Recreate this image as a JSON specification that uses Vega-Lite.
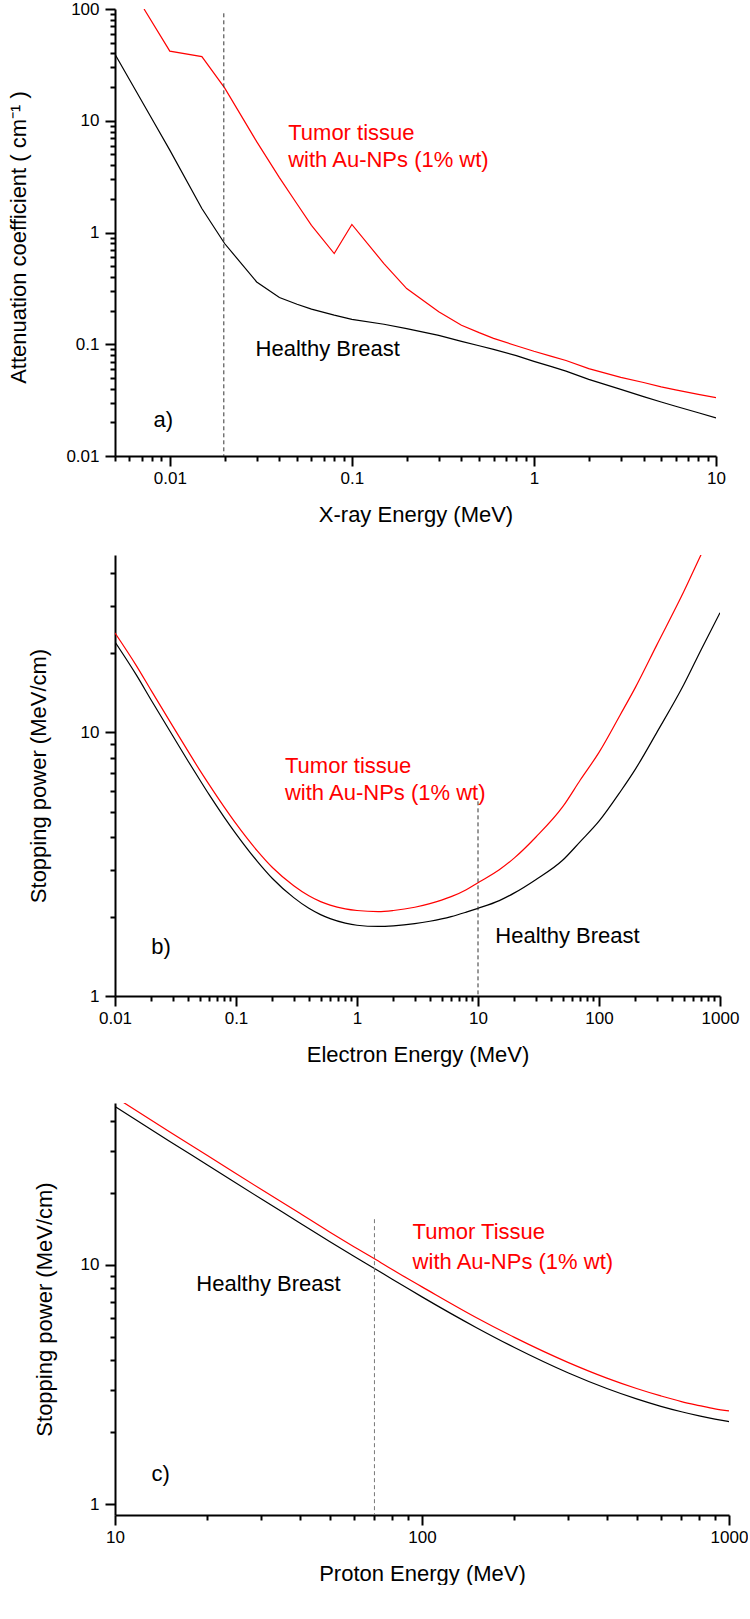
{
  "$schema": "https://vega.github.io/schema/vega-lite/v6.json",
  "padding": {"left": 7, "top": 0, "right": 0, "bottom": 0},
  "background": "white",
  "config": {
    "view": {"stroke": null},
    "font": "Liberation Sans",
    "axis": {
      "domainColor": "#000", "domainWidth": 2, "tickColor": "#000", "tickWidth": 2, "ticks": true,
      "labelFont": "Liberation Sans", "labelFontSize": 17, "labelColor": "#000",
      "titleFont": "Liberation Sans", "titleFontSize": 22, "titleFontWeight": "normal", "titleColor": "#000",
      "grid": false, "labelFlush": false, "labelOverlap": false, "labelBound": false
    },
    "axisX": {"labelPadding": 4},
    "axisY": {"labelPadding": 6}
  },
  "datasets": {
    "a_lines": [
      {"E":0.005,"v":39.3,"series":"Healthy"},{"E":0.006,"v":23.4,"series":"Healthy"},{"E":0.008,"v":10.3,"series":"Healthy"},
      {"E":0.01,"v":5.46,"series":"Healthy"},{"E":0.015,"v":1.64,"series":"Healthy"},{"E":0.02,"v":0.797,"series":"Healthy"},
      {"E":0.03,"v":0.361,"series":"Healthy"},{"E":0.04,"v":0.262,"series":"Healthy"},{"E":0.05,"v":0.228,"series":"Healthy"},
      {"E":0.06,"v":0.206,"series":"Healthy"},{"E":0.08,"v":0.182,"series":"Healthy"},{"E":0.1,"v":0.167,"series":"Healthy"},
      {"E":0.15,"v":0.151,"series":"Healthy"},{"E":0.2,"v":0.138,"series":"Healthy"},{"E":0.3,"v":0.12,"series":"Healthy"},
      {"E":0.4,"v":0.106,"series":"Healthy"},{"E":0.5,"v":0.097,"series":"Healthy"},{"E":0.6,"v":0.09,"series":"Healthy"},
      {"E":0.8,"v":0.079,"series":"Healthy"},{"E":1,"v":0.0703,"series":"Healthy"},{"E":1.25,"v":0.063,"series":"Healthy"},
      {"E":1.5,"v":0.0575,"series":"Healthy"},{"E":2,"v":0.0485,"series":"Healthy"},{"E":3,"v":0.0395,"series":"Healthy"},
      {"E":4,"v":0.034,"series":"Healthy"},{"E":5,"v":0.0304,"series":"Healthy"},{"E":6,"v":0.0279,"series":"Healthy"},
      {"E":8,"v":0.0244,"series":"Healthy"},{"E":10,"v":0.0219,"series":"Healthy"},
      {"E":0.00722,"v":100,"series":"Tumor"},{"E":0.01,"v":42,"series":"Tumor"},{"E":0.015,"v":37.5,"series":"Tumor"},
      {"E":0.02,"v":19.7,"series":"Tumor"},{"E":0.03,"v":6.5,"series":"Tumor"},{"E":0.04,"v":3.1,"series":"Tumor"},
      {"E":0.05,"v":1.8,"series":"Tumor"},{"E":0.06,"v":1.16,"series":"Tumor"},{"E":0.08,"v":0.648,"series":"Tumor"},
      {"E":0.1,"v":1.18,"series":"Tumor"},{"E":0.15,"v":0.527,"series":"Tumor"},{"E":0.2,"v":0.315,"series":"Tumor"},
      {"E":0.3,"v":0.195,"series":"Tumor"},{"E":0.4,"v":0.148,"series":"Tumor"},{"E":0.5,"v":0.127,"series":"Tumor"},
      {"E":0.6,"v":0.113,"series":"Tumor"},{"E":0.8,"v":0.097,"series":"Tumor"},{"E":1,"v":0.0865,"series":"Tumor"},
      {"E":1.25,"v":0.078,"series":"Tumor"},{"E":1.5,"v":0.0715,"series":"Tumor"},{"E":2,"v":0.0605,"series":"Tumor"},
      {"E":3,"v":0.0505,"series":"Tumor"},{"E":4,"v":0.0455,"series":"Tumor"},{"E":5,"v":0.0415,"series":"Tumor"},
      {"E":6,"v":0.039,"series":"Tumor"},{"E":8,"v":0.0356,"series":"Tumor"},{"E":10,"v":0.0333,"series":"Tumor"}
    ],
    "a_marker": [{"E":0.0198,"v":91.5,"v2":0.01}],
    "a_text": [
      {"E":0.0447,"v":6.71,"label":"Tumor tissue","series":"Tumor"},
      {"E":0.0447,"v":3.88,"label":"with Au-NPs (1% wt)","series":"Tumor"},
      {"E":0.0296,"v":0.078,"label":"Healthy Breast","series":"Healthy"},
      {"E":0.00813,"v":0.0182,"label":"a)","series":"Panel"}
    ],
    "b_lines": [
      {"E":0.01,"v":22.0,"series":"Healthy"},{"E":0.015,"v":16.5,"series":"Healthy"},{"E":0.02,"v":13.2,"series":"Healthy"},
      {"E":0.03,"v":9.7,"series":"Healthy"},{"E":0.04,"v":7.8,"series":"Healthy"},{"E":0.05,"v":6.62,"series":"Healthy"},
      {"E":0.06,"v":5.8,"series":"Healthy"},{"E":0.08,"v":4.76,"series":"Healthy"},{"E":0.1,"v":4.12,"series":"Healthy"},
      {"E":0.15,"v":3.24,"series":"Healthy"},{"E":0.2,"v":2.79,"series":"Healthy"},{"E":0.3,"v":2.36,"series":"Healthy"},
      {"E":0.4,"v":2.15,"series":"Healthy"},{"E":0.5,"v":2.035,"series":"Healthy"},{"E":0.6,"v":1.965,"series":"Healthy"},
      {"E":0.8,"v":1.89,"series":"Healthy"},{"E":1,"v":1.855,"series":"Healthy"},{"E":1.5,"v":1.835,"series":"Healthy"},
      {"E":2,"v":1.845,"series":"Healthy"},{"E":3,"v":1.88,"series":"Healthy"},{"E":4,"v":1.92,"series":"Healthy"},
      {"E":5,"v":1.96,"series":"Healthy"},{"E":6,"v":2.0,"series":"Healthy"},{"E":8,"v":2.08,"series":"Healthy"},
      {"E":10,"v":2.15,"series":"Healthy"},{"E":15,"v":2.3,"series":"Healthy"},{"E":20,"v":2.46,"series":"Healthy"},
      {"E":30,"v":2.76,"series":"Healthy"},{"E":50,"v":3.27,"series":"Healthy"},{"E":70,"v":3.85,"series":"Healthy"},
      {"E":100,"v":4.6,"series":"Healthy"},{"E":150,"v":5.95,"series":"Healthy"},{"E":200,"v":7.25,"series":"Healthy"},
      {"E":300,"v":9.97,"series":"Healthy"},{"E":500,"v":15.1,"series":"Healthy"},{"E":700,"v":20.6,"series":"Healthy"},
      {"E":1000,"v":28.4,"series":"Healthy"},
      {"E":0.01,"v":23.8,"series":"Tumor"},{"E":0.015,"v":17.9,"series":"Tumor"},{"E":0.02,"v":14.35,"series":"Tumor"},
      {"E":0.03,"v":10.55,"series":"Tumor"},{"E":0.04,"v":8.5,"series":"Tumor"},{"E":0.05,"v":7.2,"series":"Tumor"},
      {"E":0.06,"v":6.33,"series":"Tumor"},{"E":0.08,"v":5.2,"series":"Tumor"},{"E":0.1,"v":4.5,"series":"Tumor"},
      {"E":0.15,"v":3.55,"series":"Tumor"},{"E":0.2,"v":3.07,"series":"Tumor"},{"E":0.3,"v":2.62,"series":"Tumor"},
      {"E":0.4,"v":2.4,"series":"Tumor"},{"E":0.5,"v":2.28,"series":"Tumor"},{"E":0.6,"v":2.21,"series":"Tumor"},
      {"E":0.8,"v":2.14,"series":"Tumor"},{"E":1,"v":2.11,"series":"Tumor"},{"E":1.5,"v":2.09,"series":"Tumor"},
      {"E":2,"v":2.11,"series":"Tumor"},{"E":3,"v":2.17,"series":"Tumor"},{"E":4,"v":2.24,"series":"Tumor"},
      {"E":5,"v":2.31,"series":"Tumor"},{"E":6,"v":2.38,"series":"Tumor"},{"E":8,"v":2.53,"series":"Tumor"},
      {"E":10,"v":2.69,"series":"Tumor"},{"E":15,"v":3.01,"series":"Tumor"},{"E":20,"v":3.34,"series":"Tumor"},
      {"E":30,"v":4.0,"series":"Tumor"},{"E":50,"v":5.21,"series":"Tumor"},{"E":70,"v":6.59,"series":"Tumor"},
      {"E":100,"v":8.39,"series":"Tumor"},{"E":150,"v":11.66,"series":"Tumor"},{"E":200,"v":14.8,"series":"Tumor"},
      {"E":300,"v":21.4,"series":"Tumor"},{"E":500,"v":34.0,"series":"Tumor"},{"E":700,"v":47.3,"series":"Tumor"},
      {"E":1000,"v":66.4,"series":"Tumor"}
    ],
    "b_marker": [{"E":10,"v":5.47,"v2":1}],
    "b_text": [
      {"E":0.254,"v":7.01,"label":"Tumor tissue","series":"Tumor"},
      {"E":0.254,"v":5.55,"label":"with Au-NPs (1% wt)","series":"Tumor"},
      {"E":13.9,"v":1.59,"label":"Healthy Breast","series":"Healthy"},
      {"E":0.0199,"v":1.445,"label":"b)","series":"Panel"}
    ],
    "c_lines": [
      {"E":10,"v":45.8,"series":"Healthy"},{"E":15,"v":32.9,"series":"Healthy"},{"E":20,"v":26.1,"series":"Healthy"},
      {"E":30,"v":18.8,"series":"Healthy"},{"E":40,"v":14.95,"series":"Healthy"},{"E":50,"v":12.5,"series":"Healthy"},
      {"E":60,"v":10.85,"series":"Healthy"},{"E":70,"v":9.65,"series":"Healthy"},{"E":80,"v":8.7,"series":"Healthy"},
      {"E":90,"v":7.95,"series":"Healthy"},{"E":100,"v":7.34,"series":"Healthy"},{"E":150,"v":5.47,"series":"Healthy"},
      {"E":200,"v":4.51,"series":"Healthy"},{"E":300,"v":3.53,"series":"Healthy"},{"E":400,"v":3.04,"series":"Healthy"},
      {"E":500,"v":2.75,"series":"Healthy"},{"E":600,"v":2.56,"series":"Healthy"},{"E":700,"v":2.43,"series":"Healthy"},
      {"E":800,"v":2.335,"series":"Healthy"},{"E":900,"v":2.265,"series":"Healthy"},{"E":1000,"v":2.21,"series":"Healthy"},
      {"E":10,"v":50.2,"series":"Tumor"},{"E":15,"v":36.0,"series":"Tumor"},{"E":20,"v":28.6,"series":"Tumor"},
      {"E":30,"v":20.6,"series":"Tumor"},{"E":40,"v":16.4,"series":"Tumor"},{"E":50,"v":13.7,"series":"Tumor"},
      {"E":60,"v":11.9,"series":"Tumor"},{"E":70,"v":10.6,"series":"Tumor"},{"E":80,"v":9.55,"series":"Tumor"},
      {"E":90,"v":8.73,"series":"Tumor"},{"E":100,"v":8.08,"series":"Tumor"},{"E":150,"v":6.02,"series":"Tumor"},
      {"E":200,"v":4.97,"series":"Tumor"},{"E":300,"v":3.9,"series":"Tumor"},{"E":400,"v":3.36,"series":"Tumor"},
      {"E":500,"v":3.04,"series":"Tumor"},{"E":600,"v":2.83,"series":"Tumor"},{"E":700,"v":2.68,"series":"Tumor"},
      {"E":800,"v":2.58,"series":"Tumor"},{"E":900,"v":2.5,"series":"Tumor"},{"E":1000,"v":2.45,"series":"Tumor"}
    ],
    "c_marker": [{"E":70,"v":15.5,"v2":0.9}],
    "c_text": [
      {"E":93.2,"v":12.8,"label":"Tumor Tissue","series":"Tumor"},
      {"E":93.2,"v":9.6,"label":"with Au-NPs (1% wt)","series":"Tumor"},
      {"E":18.4,"v":7.8,"label":"Healthy Breast","series":"Healthy"},
      {"E":13.14,"v":1.25,"label":"c)","series":"Panel"}
    ]
  },
  "spacing": 29,
  "vconcat": [
    {
      "width": 601, "height": 447,
      "resolve": {"axis": {"x": "independent", "y": "independent"}},
      "layer": [
        {"data": {"name": "a_lines"}, "mark": {"type": "line", "strokeWidth": 1.2, "clip": true},
         "encoding": {
           "x": {"field": "E", "type": "quantitative",
             "scale": {"type": "log", "domain": [0.005, 10], "nice": false, "zero": false},
             "axis": {"orient": "bottom", "title": "X-ray Energy (MeV)", "titleBaseline": "alphabetic", "titleY": 65.7, "tickSize": 10,
               "values": [0.01, 0.1, 1, 10], "labelExpr": "toString(datum.value)"}},
           "y": {"field": "v", "type": "quantitative",
             "scale": {"type": "log", "domain": [0.01, 100], "nice": false, "zero": false},
             "axis": {"orient": "left", "title": "Attenuation coefficient ( cm⁻¹ )", "titleX": -84.4, "titleY": 228, "tickSize": 10,
               "values": [0.01, 0.1, 1, 10, 100], "labelExpr": "toString(datum.value)"}},
           "color": {"field": "series", "type": "nominal", "scale": {"domain": ["Tumor", "Healthy", "Panel"], "range": ["#ff0000", "#000000", "#000000"]}, "legend": null}}},
        {"data": {"name": "a_marker"}, "mark": {"type": "rule", "strokeDash": [4, 3], "color": "#333333", "strokeWidth": 1},
         "encoding": {
           "x": {"field": "E", "type": "quantitative",
             "scale": {"type": "log", "domain": [0.005, 10], "nice": false, "zero": false},
             "axis": {"orient": "bottom", "title": null, "labels": false, "domain": false, "tickSize": 5,
               "values": [0.005,0.006,0.007,0.008,0.009,0.02,0.03,0.04,0.05,0.06,0.07,0.08,0.09,0.2,0.3,0.4,0.5,0.6,0.7,0.8,0.9,2,3,4,5,6,7,8,9]}},
           "y": {"field": "v", "type": "quantitative",
             "scale": {"type": "log", "domain": [0.01, 100], "nice": false, "zero": false},
             "axis": {"orient": "left", "title": null, "labels": false, "domain": false, "tickSize": 5,
               "values": [0.02,0.03,0.04,0.05,0.06,0.07,0.08,0.09,0.2,0.3,0.4,0.5,0.6,0.7,0.8,0.9,2,3,4,5,6,7,8,9,20,30,40,50,60,70,80,90]}},
           "y2": {"field": "v2"}}},
        {"data": {"name": "a_text"}, "mark": {"type": "text", "align": "left", "baseline": "alphabetic", "fontSize": 22, "font": "Liberation Sans"},
         "encoding": {
           "x": {"field": "E", "type": "quantitative", "scale": {"type": "log", "domain": [0.005, 10], "nice": false, "zero": false}, "axis": null},
           "y": {"field": "v", "type": "quantitative", "scale": {"type": "log", "domain": [0.01, 100], "nice": false, "zero": false}, "axis": null},
           "text": {"field": "label"},
           "color": {"field": "series", "type": "nominal", "scale": {"domain": ["Tumor", "Healthy", "Panel"], "range": ["#ff0000", "#000000", "#000000"]}, "legend": null}}}
      ]
    },
    {
      "spacing": 37,
      "vconcat": [
        {
          "width": 605, "height": 441,
          "resolve": {"axis": {"x": "independent", "y": "independent"}},
          "layer": [
            {"data": {"name": "b_lines"}, "mark": {"type": "line", "strokeWidth": 1.2, "clip": true, "interpolate": "monotone"},
             "encoding": {
               "x": {"field": "E", "type": "quantitative",
                 "scale": {"type": "log", "domain": [0.01, 1000], "nice": false, "zero": false},
                 "axis": {"orient": "bottom", "title": "Electron Energy (MeV)", "titleBaseline": "alphabetic", "titleY": 65.7, "tickSize": 10,
                   "values": [0.01, 0.1, 1, 10, 100, 1000], "labelExpr": "toString(datum.value)"}},
               "y": {"field": "v", "type": "quantitative",
                 "scale": {"type": "log", "domain": [1, 47], "nice": false, "zero": false},
                 "axis": {"orient": "left", "title": "Stopping power (MeV/cm)", "titleX": -65, "tickSize": 10,
                   "values": [1, 10], "labelExpr": "toString(datum.value)"}},
               "color": {"field": "series", "type": "nominal", "scale": {"domain": ["Tumor", "Healthy", "Panel"], "range": ["#ff0000", "#000000", "#000000"]}, "legend": null}}},
            {"data": {"name": "b_marker"}, "mark": {"type": "rule", "strokeDash": [4, 3], "color": "#333333", "strokeWidth": 1},
             "encoding": {
               "x": {"field": "E", "type": "quantitative",
                 "scale": {"type": "log", "domain": [0.01, 1000], "nice": false, "zero": false},
                 "axis": {"orient": "bottom", "title": null, "labels": false, "domain": false, "tickSize": 5,
                   "values": [0.02,0.03,0.04,0.05,0.06,0.07,0.08,0.09,0.2,0.3,0.4,0.5,0.6,0.7,0.8,0.9,2,3,4,5,6,7,8,9,20,30,40,50,60,70,80,90,200,300,400,500,600,700,800,900]}},
               "y": {"field": "v", "type": "quantitative",
                 "scale": {"type": "log", "domain": [1, 47], "nice": false, "zero": false},
                 "axis": {"orient": "left", "title": null, "labels": false, "domain": false, "tickSize": 5,
                   "values": [2,3,4,5,6,7,8,9,20,30,40]}},
               "y2": {"field": "v2"}}},
            {"data": {"name": "b_text"}, "mark": {"type": "text", "align": "left", "baseline": "alphabetic", "fontSize": 22, "font": "Liberation Sans"},
             "encoding": {
               "x": {"field": "E", "type": "quantitative", "scale": {"type": "log", "domain": [0.01, 1000], "nice": false, "zero": false}, "axis": null},
               "y": {"field": "v", "type": "quantitative", "scale": {"type": "log", "domain": [1, 47], "nice": false, "zero": false}, "axis": null},
               "text": {"field": "label"},
               "color": {"field": "series", "type": "nominal", "scale": {"domain": ["Tumor", "Healthy", "Panel"], "range": ["#ff0000", "#000000", "#000000"]}, "legend": null}}}
          ]
        },
        {
          "width": 614, "height": 412,
          "resolve": {"axis": {"x": "independent", "y": "independent"}},
          "layer": [
            {"data": {"name": "c_lines"}, "mark": {"type": "line", "strokeWidth": 1.2, "clip": true, "interpolate": "monotone"},
             "encoding": {
               "x": {"field": "E", "type": "quantitative",
                 "scale": {"type": "log", "domain": [10, 1000], "nice": false, "zero": false},
                 "axis": {"orient": "bottom", "title": "Proton Energy (MeV)", "titleBaseline": "alphabetic", "titleY": 65.7, "tickSize": 10,
                   "values": [10, 100, 1000], "labelExpr": "toString(datum.value)"}},
               "y": {"field": "v", "type": "quantitative",
                 "scale": {"type": "log", "domain": [0.9, 47.4], "nice": false, "zero": false},
                 "axis": {"orient": "left", "title": "Stopping power (MeV/cm)", "titleX": -58.3, "tickSize": 10,
                   "values": [1, 10], "labelExpr": "toString(datum.value)"}},
               "color": {"field": "series", "type": "nominal", "scale": {"domain": ["Tumor", "Healthy", "Panel"], "range": ["#ff0000", "#000000", "#000000"]}, "legend": null}}},
            {"data": {"name": "c_marker"}, "mark": {"type": "rule", "strokeDash": [4, 3], "color": "#777777", "strokeWidth": 1},
             "encoding": {
               "x": {"field": "E", "type": "quantitative",
                 "scale": {"type": "log", "domain": [10, 1000], "nice": false, "zero": false},
                 "axis": {"orient": "bottom", "title": null, "labels": false, "domain": false, "tickSize": 5,
                   "values": [20,30,40,50,60,70,80,90,200,300,400,500,600,700,800,900]}},
               "y": {"field": "v", "type": "quantitative",
                 "scale": {"type": "log", "domain": [0.9, 47.4], "nice": false, "zero": false},
                 "axis": {"orient": "left", "title": null, "labels": false, "domain": false, "tickSize": 5,
                   "values": [2,3,4,5,6,7,8,9,20,30,40]}},
               "y2": {"field": "v2"}}},
            {"data": {"name": "c_text"}, "mark": {"type": "text", "align": "left", "baseline": "alphabetic", "fontSize": 22, "font": "Liberation Sans"},
             "encoding": {
               "x": {"field": "E", "type": "quantitative", "scale": {"type": "log", "domain": [10, 1000], "nice": false, "zero": false}, "axis": null},
               "y": {"field": "v", "type": "quantitative", "scale": {"type": "log", "domain": [0.9, 47.4], "nice": false, "zero": false}, "axis": null},
               "text": {"field": "label"},
               "color": {"field": "series", "type": "nominal", "scale": {"domain": ["Tumor", "Healthy", "Panel"], "range": ["#ff0000", "#000000", "#000000"]}, "legend": null}}}
          ]
        }
      ]
    }
  ]
}
